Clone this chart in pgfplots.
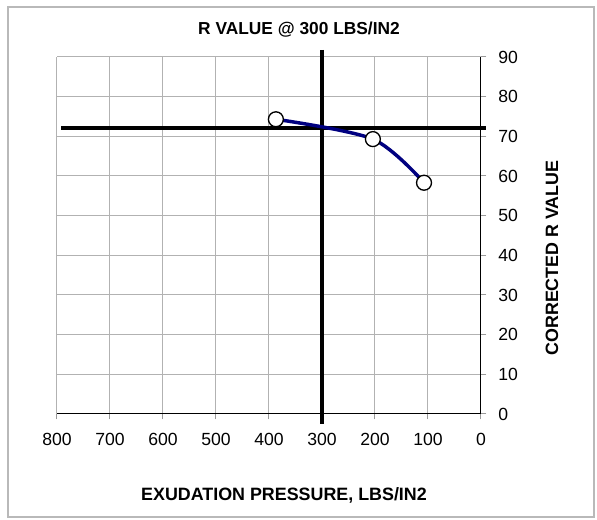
\documentclass[border=0pt]{standalone}
\usepackage{pgfplots}
\pgfplotsset{compat=1.18}
\usepackage{fontspec}
\setmainfont{Liberation Sans}
\definecolor{curvenavy}{RGB}{0,0,128}
\begin{document}
\begin{tikzpicture}
\begin{axis}[
    name=ax,
    scale only axis,
    width=318pt, height=267.75pt,
    x dir=reverse,
    xmin=0, xmax=800, ymin=0, ymax=90,
    xtick={0,100,...,800}, ytick={0,10,...,90},
    axis x line*=bottom, axis y line*=right,
    axis line style={-, black, line width=0.75pt},
    xtick pos=lower, ytick pos=right,
    tick align=outside, major tick length=4pt,
    tick style={gray!80, line width=0.75pt},
    grid=major,
    major grid style={gray!60, line width=0.75pt},
    ticklabel style={font=\fontsize{13.2}{15}\selectfont},
    /pgf/number format/assume math mode=true,
    xticklabel style={anchor=north, yshift=-7pt},
    yticklabel style={anchor=west, xshift=5.5pt},
    clip=false,
]
% reference lines at 300 lbs/in2
\addplot[black, line width=3pt] coordinates {(300,91.8) (300,-2.5)};
\addplot[black, line width=3pt] coordinates {(792,72) (-10,72)};
% test results
\addplot[curvenavy, line width=2.6pt, smooth, mark=*, mark size=5.6pt,
    mark options={fill=white, draw=black, line width=1pt}]
    coordinates {(387,74.3) (204,69.3) (107.5,58.3)};
\end{axis}
\draw[gray!55, line width=0.9pt] ([shift={(-36.75pt,-77.25pt)}]ax.south west) rectangle ([shift={(84.75pt,37.5pt)}]ax.north east);
\path ([shift={(-42.75pt,-79.5pt)}]ax.south west) rectangle ([shift={(87pt,42.75pt)}]ax.north east);
\node[font=\fontsize{13}{15}\selectfont\bfseries] at ([shift={(181.5pt,20.6pt)}]ax.north west) {R VALUE @ 300 LBS/IN2};
\node[font=\fontsize{13.4}{15}\selectfont\bfseries] at ([shift={(170.25pt,-61.1pt)}]ax.south west) {EXUDATION PRESSURE, LBS/IN2};
\node[font=\fontsize{13.4}{15}\selectfont\bfseries, rotate=90] at ([shift={(53.25pt,117pt)}]ax.south east) {CORRECTED R VALUE};
\end{tikzpicture}
\end{document}
